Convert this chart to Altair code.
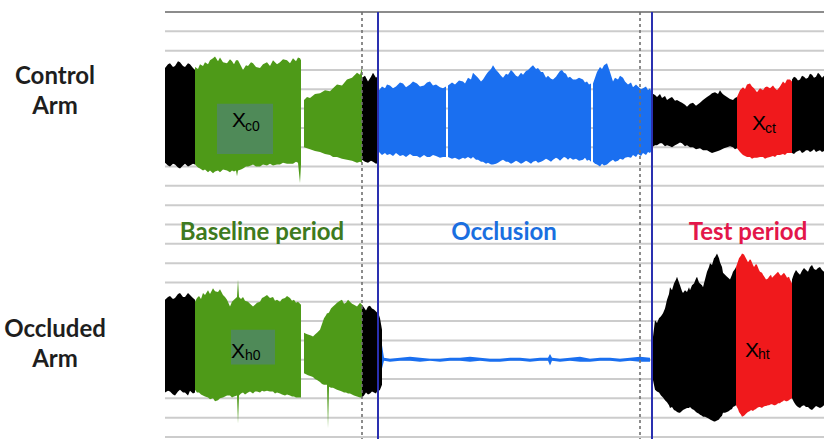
import altair as alt
import pandas as pd

# ---------------- data (time in arbitrary units, amplitude in units; grid every 20) ----
# Control arm trace: envelope segments (t, upper, lower)
ctrl_rest1_t = [0, 3, 5, 8, 10, 13, 15, 18, 20, 23, 25, 28, 30]
ctrl_rest1_hi = [382, 386, 387, 383, 384, 389, 388, 384, 383, 387, 386, 382, 380]
ctrl_rest1_lo = [284, 281, 280, 283, 282, 279, 278, 281, 283, 280, 281, 283, 282]

ctrl_base1_t = [30, 33, 35, 38, 40, 43, 45, 48, 50, 53, 55, 58, 62, 65, 67, 69, 71, 72, 73, 76, 78, 81, 83, 86,
                88, 91, 95, 98, 102, 105, 108, 112, 115, 118, 122, 125, 128, 131, 133, 135, 136]
ctrl_base1_hi = [383, 381, 386, 384, 388, 386, 390, 392, 394, 389, 393, 388, 387, 391, 389, 386, 390, 390, 390, 384, 380, 385, 384, 388,
                 387, 383, 382, 386, 388, 384, 390, 386, 388, 391, 390, 387, 392, 389, 393, 392, 390]
ctrl_base1_lo = [282, 279, 278, 276, 277, 274, 276, 273, 275, 276, 274, 277, 276, 274, 276, 275, 276, 270, 276, 277, 278, 280, 280, 281,
                 282, 280, 280, 282, 281, 283, 281, 282, 282, 284, 283, 283, 283, 285, 284, 263, 282]

ctrl_base2_t = [139, 142, 145, 150, 155, 160, 165, 168, 172, 177, 182, 187, 192, 195, 197]
ctrl_base2_hi = [349, 352, 351, 355, 356, 359, 358, 361, 365, 364, 370, 372, 377, 375, 382]
ctrl_base2_lo = [300, 299, 298, 296, 295, 293, 292, 290, 290, 288, 287, 286, 284, 285, 284]

ctrl_rest2_t = [197, 200, 203, 206, 208, 211, 214]
ctrl_rest2_hi = [372, 374, 368, 373, 377, 372, 375]
ctrl_rest2_lo = [287, 285, 284, 286, 285, 283, 284]

ctrl_occ1_t = [214, 217, 220, 222, 225, 228, 231, 235, 238, 241, 245, 248, 252, 255, 259, 262, 265, 268, 271, 275, 278, 281]
ctrl_occ1_hi = [359, 363, 361, 365, 364, 361, 363, 367, 366, 362, 365, 368, 366, 363, 364, 367, 368, 364, 365, 362, 361, 363]
ctrl_occ1_lo = [295, 292, 294, 292, 293, 291, 294, 291, 292, 290, 293, 291, 291, 289, 292, 290, 290, 292, 291, 289, 290, 290]

ctrl_occ2_t = [283, 287, 290, 294, 298, 300, 303, 306, 308, 311, 313, 316, 318, 321, 323, 326, 328, 331, 333, 336, 338,
               341, 343, 346, 348, 351, 353, 356, 358, 361, 363, 366, 368, 371, 373, 376, 378, 381, 383, 386, 388,
               391, 393, 395, 397, 399, 401, 403, 405, 408, 411, 414, 418, 420, 422, 424, 426]
ctrl_occ2_hi = [364, 367, 365, 369, 368, 366, 372, 370, 377, 374, 372, 368, 370, 375, 378, 381, 385, 380, 378, 374, 372,
                376, 375, 380, 378, 374, 373, 377, 375, 379, 380, 383, 385, 381, 382, 378, 378, 372, 374, 371, 370,
                373, 376, 379, 380, 377, 376, 372, 373, 370, 370, 372, 370, 367, 368, 365, 366]
ctrl_occ2_lo = [290, 288, 289, 287, 289, 288, 290, 288, 290, 287, 287, 285, 285, 283, 284, 282, 282, 283, 284, 286, 287,
                285, 285, 283, 284, 286, 285, 283, 284, 286, 285, 283, 285, 286, 284, 285, 286, 288, 287, 285, 287,
                289, 288, 286, 288, 290, 289, 287, 289, 287, 288, 286, 287, 289, 286, 287, 285]

ctrl_occ3_t = [428, 430, 432, 435, 437, 439, 442, 445, 448, 450, 453, 455, 458, 460, 463, 466, 468, 471, 473, 476, 478, 481, 483, 485, 487]
ctrl_occ3_hi = [366, 372, 378, 383, 381, 385, 387, 378, 368, 372, 370, 374, 372, 368, 365, 367, 362, 365, 363, 360, 361, 363, 359, 361, 356]
ctrl_occ3_lo = [285, 283, 282, 280, 283, 281, 282, 285, 287, 285, 286, 288, 287, 289, 290, 289, 292, 290, 293, 291, 294, 292, 295, 294, 297]

ctrl_rest3_t = [487, 490, 492, 495, 497, 500, 502, 505, 507, 510, 512, 515, 517, 520, 522, 525, 528, 531, 535, 538, 542, 545,
                547, 550, 553, 555, 557, 559, 562, 565, 568, 570, 572]
ctrl_rest3_hi = [356, 354, 352, 355, 351, 353, 349, 351, 352, 348, 349, 347, 346, 344, 342, 345, 346, 343, 346, 349, 352, 354,
                 356, 357, 355, 359, 356, 354, 352, 350, 349, 351, 352]
ctrl_rest3_lo = [300, 302, 302, 304, 304, 301, 302, 301, 300, 302, 303, 305, 304, 301, 302, 300, 300, 298, 299, 297, 297, 295,
                 294, 295, 296, 297, 298, 299, 300, 301, 300, 298, 299]

ctrl_test_t = [572, 575, 578, 580, 582, 585, 587, 589, 592, 595, 598, 600, 602, 605, 608, 610, 612, 615, 618, 620, 622, 625, 627]
ctrl_test_hi = [352, 359, 362, 360, 365, 366, 363, 361, 357, 361, 359, 362, 363, 361, 364, 361, 359, 363, 368, 366, 370, 370, 368]
ctrl_test_lo = [299, 295, 292, 291, 290, 290, 288, 289, 289, 290, 290, 288, 289, 290, 291, 290, 292, 292, 293, 292, 294, 294, 294]

ctrl_rest4_t = [627, 629, 631, 633, 635, 637, 639, 641, 643, 645, 647, 649, 651, 653, 655, 657, 659]
ctrl_rest4_hi = [370, 373, 372, 369, 370, 374, 373, 371, 372, 376, 375, 372, 373, 377, 375, 372, 374]
ctrl_rest4_lo = [294, 293, 295, 296, 297, 294, 295, 297, 297, 295, 296, 298, 295, 296, 297, 295, 296]

# Occluded arm trace
occl_rest1_t = [0, 3, 5, 8, 10, 13, 15, 18, 20, 23, 25, 28, 30]
occl_rest1_hi = [142, 145, 146, 143, 144, 148, 149, 145, 145, 149, 147, 144, 142]
occl_rest1_lo = [46, 48, 47, 44, 43, 47, 49, 46, 46, 43, 48, 45, 46]

occl_base1_t = [30, 32, 34, 36, 38, 40, 43, 45, 48, 50, 53, 55, 58, 60, 62, 65, 67, 69, 72, 73, 74, 76, 78, 80, 83, 85,
                88, 90, 92, 95, 97, 99, 102, 105, 108, 110, 112, 115, 117, 120, 122, 125, 127, 129, 131, 133, 136]
occl_base1_hi = [140, 144, 146, 143, 149, 147, 152, 148, 154, 151, 150, 153, 147, 145, 142, 135, 140, 142, 145, 163, 145, 143,
                 145, 141, 140, 138, 135, 137, 139, 140, 144, 145, 147, 144, 145, 141, 142, 140, 143, 144, 146, 144, 141,
                 142, 139, 140, 137]
occl_base1_lo = [49, 46, 46, 44, 43, 42, 41, 39, 40, 37, 38, 40, 41, 42, 43, 43, 41, 42, 43, 14, 43, 45, 46, 44, 46, 47,
                 45, 47, 47, 46, 48, 47, 48, 47, 47, 45, 46, 45, 44, 43, 44, 43, 42, 42, 41, 41, 41]

occl_base2_t = [139, 141, 143, 146, 148, 150, 152, 155, 157, 159, 161, 162, 163, 164, 166, 168, 170, 172, 175, 177,
                179, 181, 183, 185, 187, 189, 192, 195, 197]
occl_base2_hi = [108, 107, 106, 105, 104, 106, 108, 111, 117, 123, 126, 128, 128, 129, 133, 135, 137, 139, 141, 142,
                 138, 139, 142, 140, 138, 137, 135, 139, 137]
occl_base2_lo = [66, 65, 64, 63, 62, 60, 59, 57, 55, 54, 54, 54, 9, 52, 51, 51, 50, 49, 48, 47,
                 46, 46, 45, 45, 44, 43, 42, 41, 41]

occl_rest2_t = [197, 199, 201, 203, 205, 207, 209, 211, 212, 214, 215, 217]
occl_rest2_hi = [137, 134, 131, 135, 136, 133, 132, 130, 129, 126, 123, 111]
occl_rest2_lo = [41, 43, 46, 44, 45, 47, 46, 45, 47, 48, 49, 54]

occl_occ_t = [217, 219, 225, 235, 245, 255, 265, 275, 285, 295, 305, 315, 325, 335, 345, 355, 365, 375, 383, 385,
              387, 395, 405, 415, 425, 435, 445, 455, 465, 475, 485]
occl_occ_hi = [95, 82, 81, 82, 83, 82, 81, 81, 82, 82, 83, 82, 81, 81, 82, 82, 81, 82, 82, 86,
               82, 81, 82, 83, 81, 82, 82, 81, 82, 83, 82]
occl_occ_lo = [71, 79, 78, 79, 79, 78, 79, 78, 79, 79, 78, 79, 78, 78, 79, 79, 78, 79, 79, 74,
               79, 78, 79, 78, 78, 79, 79, 78, 79, 78, 78]

occl_rest3_t = [487, 490, 492, 494, 496, 498, 500, 502, 504, 505, 507, 509, 511, 512, 514, 515, 517, 518, 520, 522, 524, 525,
                527, 529, 531, 532, 534, 535, 537, 538, 540, 542, 544, 545, 547, 549, 550, 552, 554, 555, 557, 558,
                560, 562, 564, 565, 567, 568, 570, 571]
occl_rest3_hi = [95, 121, 118, 123, 125, 128, 133, 142, 148, 155, 152, 159, 163, 166, 160, 157, 151, 149, 152, 150, 155, 152,
                 157, 159, 164, 166, 160, 159, 157, 155, 163, 171, 176, 180, 178, 185, 186, 190, 185, 181, 176, 170,
                 168, 166, 164, 163, 168, 171, 174, 176]
occl_rest3_lo = [64, 49, 47, 46, 43, 41, 38, 36, 33, 30, 31, 28, 27, 26, 25, 25, 27, 28, 29, 30, 30, 31,
                 29, 28, 26, 25, 24, 23, 22, 21, 21, 20, 19, 18, 17, 16, 16, 17, 18, 20, 22, 25,
                 25, 26, 27, 28, 29, 31, 32, 33]

occl_test_t = [571, 573, 574, 576, 577, 579, 580, 582, 583, 585, 586, 588, 589, 591, 592, 594, 595, 597, 598, 600, 601,
               603, 604, 606, 607, 609, 610, 612, 613, 615, 616, 618, 619, 621, 622, 624, 625, 627]
occl_test_hi = [176, 182, 185, 188, 190, 189, 187, 183, 181, 184, 183, 178, 176, 179, 178, 173, 171, 170, 168, 165, 163,
                164, 166, 168, 165, 167, 168, 170, 171, 168, 167, 169, 170, 167, 165, 166, 163, 159]
occl_test_lo = [33, 29, 26, 23, 21, 22, 23, 25, 26, 27, 28, 27, 28, 29, 30, 31, 31, 30, 31, 32, 32,
                33, 33, 34, 34, 33, 33, 34, 35, 35, 36, 37, 38, 37, 37, 38, 39, 40]

occl_rest4_t = [627, 629, 631, 633, 635, 637, 639, 641, 643, 645, 647, 649, 651, 653, 655, 657, 659]
occl_rest4_hi = [163, 169, 173, 170, 168, 172, 175, 173, 171, 176, 178, 174, 173, 175, 176, 173, 171]
occl_rest4_lo = [40, 36, 33, 31, 30, 32, 33, 31, 31, 29, 28, 30, 32, 31, 30, 31, 33]

segments = [
    ("c_r1", "rest", ctrl_rest1_t, ctrl_rest1_hi, ctrl_rest1_lo),
    ("c_b1", "baseline", ctrl_base1_t, ctrl_base1_hi, ctrl_base1_lo),
    ("c_b2", "baseline", ctrl_base2_t, ctrl_base2_hi, ctrl_base2_lo),
    ("c_r2", "rest", ctrl_rest2_t, ctrl_rest2_hi, ctrl_rest2_lo),
    ("c_o1", "occlusion", ctrl_occ1_t, ctrl_occ1_hi, ctrl_occ1_lo),
    ("c_o2", "occlusion", ctrl_occ2_t, ctrl_occ2_hi, ctrl_occ2_lo),
    ("c_o3", "occlusion", ctrl_occ3_t, ctrl_occ3_hi, ctrl_occ3_lo),
    ("c_r3", "rest", ctrl_rest3_t, ctrl_rest3_hi, ctrl_rest3_lo),
    ("c_t", "test", ctrl_test_t, ctrl_test_hi, ctrl_test_lo),
    ("c_r4", "rest", ctrl_rest4_t, ctrl_rest4_hi, ctrl_rest4_lo),
    ("o_r1", "rest", occl_rest1_t, occl_rest1_hi, occl_rest1_lo),
    ("o_b1", "baseline", occl_base1_t, occl_base1_hi, occl_base1_lo),
    ("o_b2", "baseline", occl_base2_t, occl_base2_hi, occl_base2_lo),
    ("o_r2", "rest", occl_rest2_t, occl_rest2_hi, occl_rest2_lo),
    ("o_o", "occlusion", occl_occ_t, occl_occ_hi, occl_occ_lo),
    ("o_r3", "rest", occl_rest3_t, occl_rest3_hi, occl_rest3_lo),
    ("o_t", "test", occl_test_t, occl_test_hi, occl_test_lo),
    ("o_r4", "rest", occl_rest4_t, occl_rest4_hi, occl_rest4_lo),
]

phase_names = ["rest", "baseline", "occlusion", "test"]
phase_colors = ["#000000", "#4e9a18", "#1a6ff0", "#f0191c"]

grid_levels = list(range(0, 441, 20))
grid_colors = ["#cccccc"] * 22 + ["#8c8c8c"]

# phase boundary markers (time units)
marker_t = [197, 475, 213, 487]
marker_kind = ["dashed", "dashed", "solid", "solid"]

# sample windows (boxes) and their labels
box_t0 = [52, 66]
box_t1 = [108, 110]
box_y0 = [345, 75]
box_y1 = [293, 111]

win_main = ["X", "X", "X", "X"]
win_sub = ["c0", "h0", "ct", "ht"]
win_t = [67, 66, 587, 580]
win_sub_t = [80, 80, 600, 593]
win_y = [321, 82, 318, 83]
win_sub_y = [317, 80, 315, 81]

period_text = ["Baseline period", "Occlusion", "Test period"]
period_t = [97, 339, 583]
period_y = [211, 211, 211]
period_color = ["#3e7a20", "#1a6fe0", "#e3174a"]

arm_text = ["Control\nArm", "Occluded\nArm"]
arm_t = [-110, -110]
arm_y = [373, 111]

# ---------------- build tables ----------------
rows = []
for seg, ph, ts, his, los in segments:
    for t, h, l in zip(ts, his, los):
        rows.append({"seg": seg, "phase": ph, "t": t, "hi": h, "lo": l})
wave = pd.DataFrame(rows)

X = alt.Scale(domain=[0, 659], nice=False, zero=False)
Y = alt.Scale(domain=[0, 440], nice=False, zero=False)

grid_df = pd.DataFrame({"y": grid_levels, "c": grid_colors, "x0": 0, "x1": 659})
grid = alt.Chart(grid_df).mark_rule(strokeWidth=2).encode(
    x=alt.X("x0:Q", scale=X, axis=None), x2="x1:Q",
    y=alt.Y("y:Q", scale=Y, axis=None),
    color=alt.Color("c:N", scale=None),
)

waves = alt.Chart(wave).mark_area(interpolate="linear").encode(
    x=alt.X("t:Q", scale=X, axis=None),
    y=alt.Y("hi:Q", scale=Y, axis=None),
    y2="lo:Q",
    color=alt.Color("phase:N", scale=alt.Scale(domain=phase_names, range=phase_colors), legend=None),
    detail="seg:N",
)

mk_df = pd.DataFrame({"t": marker_t, "k": marker_kind, "ytop": 440, "ybot": -4})
dashed = alt.Chart(mk_df).transform_filter("datum.k == 'dashed'").mark_rule(
    color="#707070", strokeWidth=1.6, strokeDash=[3, 3]
).encode(
    x=alt.X("t:Q", scale=X, axis=None),
    y=alt.Y("ytop:Q", scale=Y, axis=None), y2="ybot:Q",
)
solid = alt.Chart(mk_df).transform_filter("datum.k == 'solid'").mark_rule(
    color="#2a30b0", strokeWidth=2
).encode(
    x=alt.X("t:Q", scale=X, axis=None),
    y=alt.Y("ytop:Q", scale=Y, axis=None), y2="ybot:Q",
)

boxes = alt.Chart(pd.DataFrame({"t0": box_t0, "t1": box_t1, "y0": box_y0, "y1": box_y1})).mark_rect(
    color="#4f8a58"
).encode(
    x=alt.X("t0:Q", scale=X, axis=None), x2="t1:Q",
    y=alt.Y("y0:Q", scale=Y, axis=None), y2="y1:Q",
)

win_df = pd.DataFrame({"m": win_main, "s": win_sub, "t": win_t, "ts": win_sub_t, "y": win_y, "ys": win_sub_y})
win_main_txt = alt.Chart(win_df).mark_text(
    align="left", baseline="alphabetic", font="Liberation Sans", fontSize=21, color="#000000"
).encode(
    x=alt.X("t:Q", scale=X, axis=None), y=alt.Y("y:Q", scale=Y, axis=None), text="m:N"
)
win_sub_txt = alt.Chart(win_df).mark_text(
    align="left", baseline="alphabetic", font="Liberation Sans", fontSize=14, color="#000000"
).encode(
    x=alt.X("ts:Q", scale=X, axis=None), y=alt.Y("ys:Q", scale=Y, axis=None), text="s:N"
)

period_df = pd.DataFrame({"txt": period_text, "t": period_t, "y": period_y, "c": period_color})
periods = alt.Chart(period_df).mark_text(
    align="center", baseline="middle", font="Lato", fontWeight="bold", fontSize=24
).encode(
    x=alt.X("t:Q", scale=X, axis=None), y=alt.Y("y:Q", scale=Y, axis=None),
    text="txt:N", color=alt.Color("c:N", scale=None),
)

arm_df = pd.DataFrame({"txt": arm_text, "t": arm_t, "y": arm_y})
arms = alt.Chart(arm_df).mark_text(
    align="center", baseline="middle", font="Lato", fontWeight="bold", fontSize=24,
    lineBreak="\n", lineHeight=30, color="#1e1e1e"
).encode(
    x=alt.X("t:Q", scale=X, axis=None), y=alt.Y("y:Q", scale=Y, axis=None), text="txt:N"
)

chart = alt.layer(
    grid, waves, dashed, solid, boxes, win_main_txt, win_sub_txt, periods, arms
).properties(
    width=659, height=425,
    padding={"left": 165, "top": 12, "right": 0, "bottom": 2},
    autosize=alt.AutoSizeParams(type="none"),
    background="white",
).configure_view(strokeWidth=0)

chart.save("out.html", embed_options={"renderer": "svg", "actions": False})
